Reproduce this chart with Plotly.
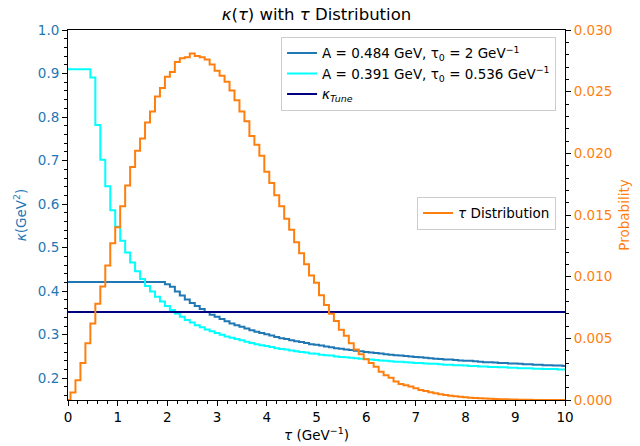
import plotly.graph_objects as go

# tau grid (GeV^-1), bins of 0.1
TAU = [round(0.1 * i, 1) for i in range(101)]

KAPPA_A484 = [
    0.421, 0.421, 0.421, 0.421, 0.421, 0.421, 0.421, 0.421, 0.421, 0.421,
    0.421, 0.421, 0.421, 0.421, 0.421, 0.421, 0.421, 0.421, 0.421, 0.421,
    0.416, 0.410, 0.399, 0.390, 0.381, 0.373, 0.366, 0.359, 0.352, 0.346,
    0.341, 0.336, 0.331, 0.326, 0.322, 0.318, 0.314, 0.310, 0.307, 0.304,
    0.301, 0.298, 0.295, 0.292, 0.290, 0.287, 0.285, 0.283, 0.281, 0.278,
    0.277, 0.275, 0.273, 0.271, 0.269, 0.268, 0.266, 0.265, 0.263, 0.262,
    0.260, 0.259, 0.258, 0.257, 0.255, 0.254, 0.253, 0.252, 0.251, 0.250,
    0.249, 0.248, 0.247, 0.246, 0.245, 0.244, 0.243, 0.243, 0.242, 0.241,
    0.240, 0.240, 0.239, 0.238, 0.237, 0.237, 0.236, 0.235, 0.235, 0.234,
    0.234, 0.233, 0.232, 0.232, 0.231, 0.231, 0.230, 0.230, 0.229, 0.229,
    0.228,
]

KAPPA_A391 = [
    0.910, 0.910, 0.910, 0.910, 0.910, 0.891, 0.782, 0.702, 0.641, 0.586,
    0.548, 0.516, 0.489, 0.466, 0.446, 0.428, 0.412, 0.399, 0.387, 0.376,
    0.366, 0.357, 0.349, 0.341, 0.334, 0.328, 0.322, 0.317, 0.312, 0.308,
    0.304, 0.300, 0.296, 0.293, 0.290, 0.287, 0.284, 0.281, 0.278, 0.276,
    0.274, 0.272, 0.269, 0.267, 0.266, 0.264, 0.262, 0.260, 0.259, 0.257,
    0.256, 0.254, 0.253, 0.252, 0.250, 0.249, 0.248, 0.247, 0.246, 0.245,
    0.244, 0.243, 0.242, 0.241, 0.240, 0.239, 0.238, 0.238, 0.237, 0.236,
    0.235, 0.235, 0.234, 0.233, 0.233, 0.232, 0.231, 0.231, 0.230, 0.230,
    0.229, 0.228, 0.228, 0.227, 0.227, 0.226, 0.226, 0.225, 0.225, 0.224,
    0.224, 0.223, 0.223, 0.223, 0.222, 0.222, 0.221, 0.221, 0.221, 0.220,
    0.220,
]

KAPPA_TUNE = 0.352
KAPPA_TUNE_X = [0, 10]

PROB = [
    0.0, 0.0006, 0.0016, 0.0030, 0.0046, 0.0062, 0.0078, 0.0092, 0.0109, 0.0127,
    0.0140, 0.0157, 0.0174, 0.0189, 0.0202, 0.0212, 0.0225, 0.0234, 0.0246, 0.0253,
    0.0262, 0.0266, 0.0274, 0.0277, 0.0278, 0.0281, 0.0279, 0.0278, 0.0276, 0.0272,
    0.0267, 0.0263, 0.0258, 0.0251, 0.0243, 0.0234, 0.0226, 0.0214, 0.0207, 0.0198,
    0.0185, 0.0176, 0.0166, 0.0157, 0.0147, 0.0138, 0.0128, 0.0119, 0.0110, 0.0101,
    0.0095, 0.0085, 0.0077, 0.0070, 0.0064, 0.0057, 0.0052, 0.0046, 0.0041, 0.0037,
    0.0033, 0.0030, 0.0027, 0.0023, 0.0020, 0.0018, 0.0015, 0.0013, 0.0012, 0.0011,
    0.00095, 0.00082, 0.00072, 0.00062, 0.00055, 0.00047, 0.00040, 0.00035, 0.00030, 0.00026,
    0.00022, 0.00019, 0.00016, 0.00014, 0.00012, 0.00010, 0.00008, 0.00007, 0.00006, 0.00005,
    0.00004, 0.00003, 0.00002, 0.00002, 0.00001, 0.00001, 0.0, 0.0, 0.0, 0.0,
    0.0,
]

BLUE = "#1f77b4"
CYAN = "#00ffff"
NAVY = "#000080"
ORANGE = "#ff7f0e"
FONT = "DejaVu Sans"

fig = go.Figure()
fig.add_trace(go.Scatter(
    x=TAU, y=KAPPA_A484, mode="lines", line=dict(color=BLUE, width=2, shape="hvh"),
    name="A = 0.484 GeV, τ<sub>0</sub> = 2 GeV<sup>−1</sup>", legend="legend"))
fig.add_trace(go.Scatter(
    x=TAU, y=KAPPA_A391, mode="lines", line=dict(color=CYAN, width=2, shape="hvh"),
    name="A = 0.391 GeV, τ<sub>0</sub> = 0.536 GeV<sup>−1</sup>", legend="legend"))
fig.add_trace(go.Scatter(
    x=KAPPA_TUNE_X, y=[KAPPA_TUNE, KAPPA_TUNE], mode="lines", line=dict(color=NAVY, width=2),
    name="<i>κ</i><sub><i>Tune</i></sub>", legend="legend"))
fig.add_trace(go.Scatter(
    x=TAU, y=PROB, mode="lines", line=dict(color=ORANGE, width=2, shape="hvh"),
    name="<i>τ</i> Distribution", yaxis="y2", legend="legend2"))

tickfont = dict(family=FONT, size=13.5, color="black")
fig.update_layout(
    width=640, height=446,
    margin=dict(l=68, r=75, t=30, b=46, autoexpand=False),
    paper_bgcolor="white", plot_bgcolor="white",
    font=dict(family=FONT, size=13.5, color="black"),
    title=dict(text="<i>κ</i>(<i>τ</i>) with <i>τ</i> Distribution",
               x=0.4945, xanchor="center", y=0.968, yanchor="middle",
               font=dict(family=FONT, size=16.5, color="black")),
    xaxis=dict(range=[0, 10], dtick=1, tick0=0, showgrid=False, zeroline=False,
               automargin=False,
               showline=True, linecolor="black", linewidth=1, mirror=True,
               ticks="outside", ticklen=5, tickwidth=1, tickcolor="black",
               minor=dict(dtick=0.2, ticks="outside", ticklen=3, tickcolor="black", tickwidth=1),
               tickfont=tickfont,
               title=dict(text="<i>τ</i> (GeV<sup>−1</sup>)", standoff=4,
                          font=dict(family=FONT, size=13.5, color="black"))),
    yaxis=dict(range=[0.15, 1.0], dtick=0.1, tick0=0, tickformat=".1f",
               automargin=False, showgrid=False, zeroline=False,
               showline=True, linecolor="black", linewidth=1,
               ticks="outside", ticklen=5, tickwidth=1, tickcolor="black",
               minor=dict(dtick=0.02, ticks="outside", ticklen=3, tickcolor="black", tickwidth=1),
               tickfont=dict(family=FONT, size=13.5, color=BLUE),
               title=dict(text="<i>κ</i>(GeV<sup>2</sup>)", standoff=8,
                          font=dict(family=FONT, size=13.5, color=BLUE))),
    yaxis2=dict(range=[0, 0.03], dtick=0.005, tick0=0, tickformat=".3f",
                automargin=False,
                overlaying="y", side="right", showgrid=False, zeroline=False,
                showline=True, linecolor="black", linewidth=1,
                ticks="outside", ticklen=5, tickwidth=1, tickcolor="black",
                minor=dict(dtick=0.001, ticks="outside", ticklen=3, tickcolor="black", tickwidth=1),
                tickfont=dict(family=FONT, size=13.5, color=ORANGE),
                title=dict(text="Probability", standoff=8,
                           font=dict(family=FONT, size=13.5, color=ORANGE))),
    legend=dict(x=0.982, y=0.982, xanchor="right", yanchor="top",
                bgcolor="rgba(255,255,255,0.8)", bordercolor="#cccccc", borderwidth=1,
                font=dict(family=FONT, size=13.5, color="black"),
                itemwidth=30, tracegroupgap=0),
    legend2=dict(x=0.982, y=0.505, xanchor="right", yanchor="middle",
                 bgcolor="rgba(255,255,255,0.8)", bordercolor="#cccccc", borderwidth=1,
                 font=dict(family=FONT, size=13.5, color="black"),
                 itemwidth=30),
)

fig.write_html("out.html",
               config={"displayModeBar": False},
               post_script="document.body.style.margin='0';document.body.style.overflow='hidden';")
